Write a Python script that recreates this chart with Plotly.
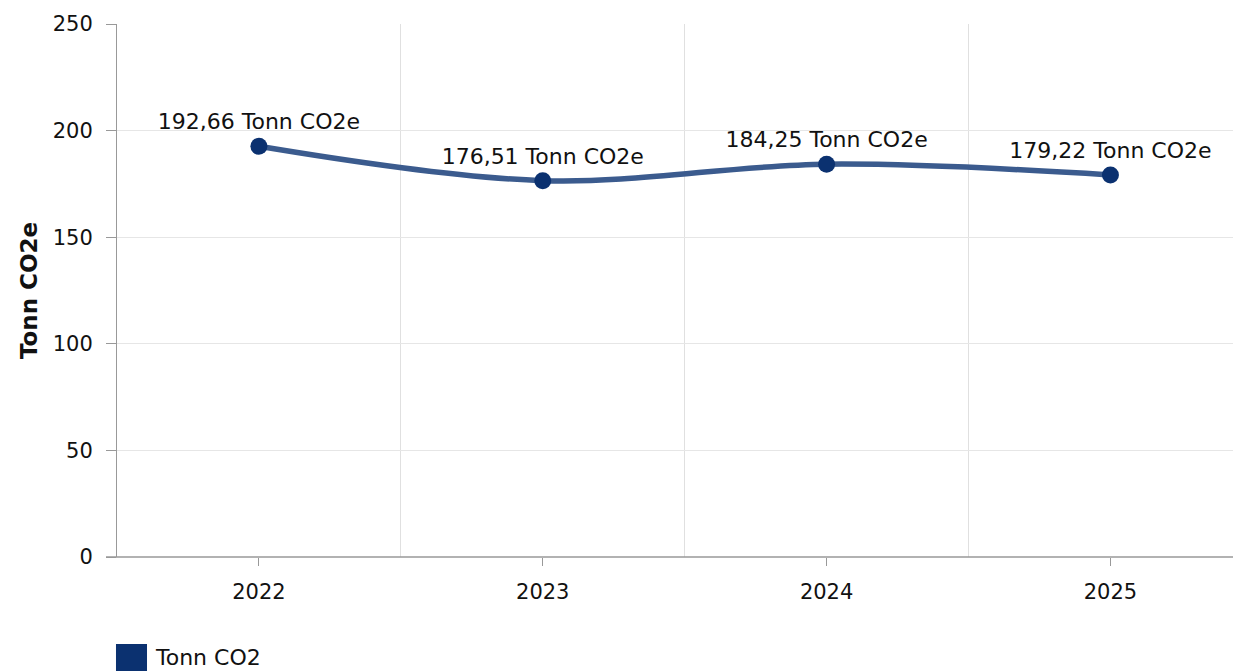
import plotly.graph_objects as go

years = ["2022", "2023", "2024", "2025"]
values = [192.66, 176.51, 184.25, 179.22]
series_name = "Tonn CO2"
unit = "Tonn CO2e"
y_ticks = [0, 50, 100, 150, 200, 250]

labels = [f"{v:.2f}".replace(".", ",") + " " + unit for v in values]
xs = list(range(len(years)))

FONT = "DejaVu Sans, Verdana, sans-serif"

fig = go.Figure()
fig.add_trace(go.Scatter(
    x=xs, y=values, mode="lines+markers+text",
    line=dict(color="#3b5b8e", width=5.5, shape="spline", smoothing=1.0),
    marker=dict(color="#0b3170", size=17),
    text=labels, textposition="top center",
    textfont=dict(size=22, color="#111111", family=FONT),
    name=series_name, showlegend=False, cliponaxis=False,
))

fig.update_layout(
    width=1233, height=663,
    margin=dict(l=109, r=0, t=16, b=114),
    plot_bgcolor="white", paper_bgcolor="white",
    font=dict(family=FONT, size=21, color="#111111"),
    xaxis=dict(
        range=[-0.5, 3.46], tickvals=xs, ticktext=years,
        showgrid=False, zeroline=False, showline=False,
        ticks="outside", ticklen=8, tickcolor="#999999",
        ticklabelstandoff=8,
        tickfont=dict(size=21, color="#111111"),
        minor=dict(tickvals=[0.5, 1.5, 2.5], showgrid=True,
                   gridcolor="#e0e0e0", gridwidth=1, ticks=""),
    ),
    yaxis=dict(
        range=[0, 250], tickvals=y_ticks, showgrid=True,
        gridcolor="#e6e6e6", gridwidth=1, zeroline=False,
        showline=True, linecolor="#999999", linewidth=1,
        ticks="outside", ticklen=10, tickcolor="#999999",
        ticklabelstandoff=9,
        tickfont=dict(size=21, color="#111111"),
        title=dict(text="<b>" + unit + "</b>", font=dict(size=23, color="#111111"),
                   standoff=8),
    ),
    shapes=[
        dict(type="line", xref="paper", yref="paper", x0=-0.0098, x1=1, y0=0, y1=0,
             line=dict(color="#999999", width=1.5)),
        dict(type="rect", xref="paper", yref="paper",
             x0=-0.0009, x1=0.0267, y0=-0.214, y1=-0.163,
             fillcolor="#0b3170", line=dict(width=0)),
    ],
    annotations=[
        dict(text=series_name, xref="paper", yref="paper", x=0.032, y=-0.188,
             xanchor="left", yanchor="middle", showarrow=False,
             font=dict(size=22, color="#111111", family=FONT)),
    ],
)

fig.write_html("out.html")
